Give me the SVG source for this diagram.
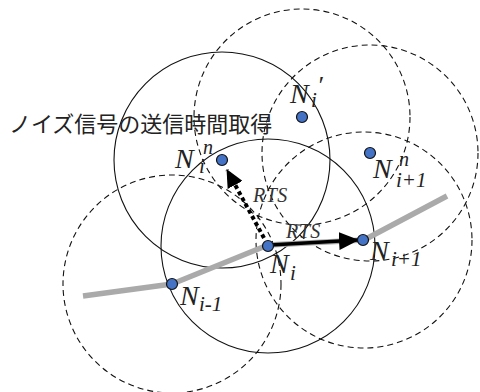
<svg xmlns="http://www.w3.org/2000/svg" width="480" height="392" viewBox="0 0 480 392">
<style>
.rs{fill:none;stroke:#111;stroke-width:1.1}
.rd{fill:none;stroke:#111;stroke-width:1.1;stroke-dasharray:6 4}
.road{fill:none;stroke:#aaaaaa;stroke-width:5.5;stroke-linejoin:round}
.dot{fill:#4472C4;stroke:#111;stroke-width:1.2}
.lbl{font-family:"Liberation Serif","Times New Roman",serif;font-style:italic;fill:#222}
.rts{font-family:"Liberation Serif","Times New Roman",serif;font-style:italic;fill:#333;letter-spacing:0.5px}
.jp{font-family:"Noto Sans CJK JP","Noto Sans",sans-serif;fill:#222}
</style>
<defs>
<marker id="ah" markerUnits="userSpaceOnUse" markerWidth="20" markerHeight="18" refX="19" refY="9" orient="auto">
<path d="M0,0 L20,9 L0,18 z" fill="#000"/>
</marker>
<marker id="ah2" markerUnits="userSpaceOnUse" markerWidth="18" markerHeight="17" refX="17" refY="8.5" orient="auto">
<path d="M0,0 L18,8.5 L0,17 z" fill="#000"/>
</marker>
</defs>
<rect width="480" height="392" fill="#fff"/>
<g id="ranges">
<circle class="rs" cx="222" cy="160" r="108"/>
<circle class="rs" cx="268" cy="246" r="107"/>
<circle class="rd" cx="302" cy="117" r="108"/>
<circle class="rd" cx="370" cy="153" r="108"/>
<circle class="rd" cx="364" cy="240" r="108"/>
<circle class="rd" cx="172" cy="284" r="109"/>
</g>
<polyline id="road" class="road" points="83,296 172,284 268,245 364,240 447,196"/>
<g id="connectors">
<line x1="270" y1="245" x2="358" y2="240" stroke="#000" stroke-width="3.5" marker-end="url(#ah)"/>
<line x1="264" y1="238" x2="227" y2="170" stroke="#000" stroke-width="4" stroke-dasharray="4 3" marker-end="url(#ah2)"/>
<text class="rts" font-size="20" x="253" y="202">RTS</text>
<text class="rts" font-size="20" x="286" y="238">RTS</text>
</g>
<text class="jp" font-size="22" x="9" y="132">ノイズ信号の送信時間取得</text>
<g id="node-Ni-prime">
<circle class="dot" cx="302" cy="117" r="5.5"/>
<text class="lbl" font-size="28" x="290" y="103">N</text>
<text class="lbl" font-size="21" x="311" y="107">i</text>
<text class="lbl" font-size="26" x="317" y="94">′</text>
</g>
<g id="node-Ni-n">
<circle class="dot" cx="222" cy="160" r="5.5"/>
<text class="lbl" font-size="28" x="175" y="168">N</text>
<text class="lbl" font-size="20" x="203" y="154">n</text>
<text class="lbl" font-size="21" x="199" y="173">i</text>
</g>
<g id="node-Ni1-n">
<circle class="dot" cx="370" cy="153" r="5.5"/>
<text class="lbl" font-size="28" x="373" y="178">N</text>
<text class="lbl" font-size="20" x="399" y="166">n</text>
<text class="lbl" font-size="21" x="396" y="187">i+1</text>
</g>
<g id="node-Ni">
<circle class="dot" cx="268" cy="246" r="5.5"/>
<text class="lbl" font-size="28" x="270" y="273">N</text>
<text class="lbl" font-size="21" x="290" y="280">i</text>
</g>
<g id="node-Ni1">
<circle class="dot" cx="363" cy="240" r="5.5"/>
<text class="lbl" font-size="28" x="370" y="260">N</text>
<text class="lbl" font-size="21" x="391" y="266">i+1</text>
</g>
<g id="node-Ni-1">
<circle class="dot" cx="172" cy="284" r="5.5"/>
<text class="lbl" font-size="28" x="180" y="305">N</text>
<text class="lbl" font-size="21" x="199" y="311">i-1</text>
</g>
</svg>
